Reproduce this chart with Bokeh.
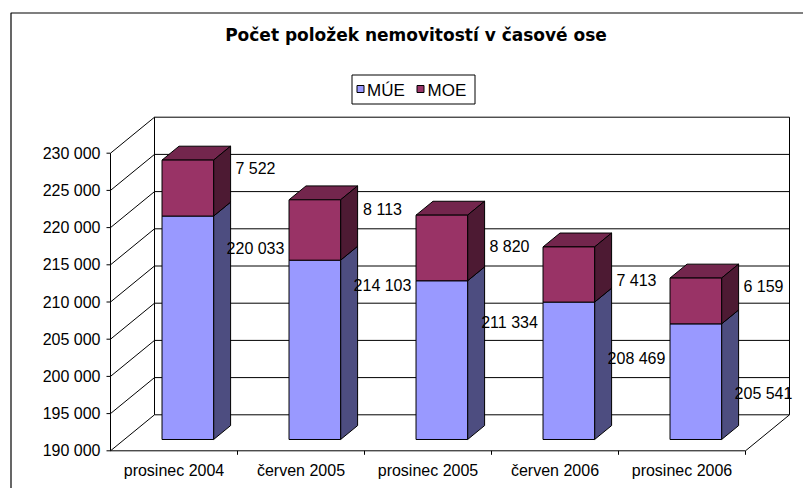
from bokeh.plotting import figure
from bokeh.models import Range1d
from bokeh.core.properties import value
from bokeh.embed import file_html
from bokeh.resources import INLINE

# ---------------- data ----------------
title = "Počet položek nemovitostí v časové ose"
categories = ["prosinec 2004", "červen 2005", "prosinec 2005", "červen 2006", "prosinec 2006"]
series_names = ["MÚE", "MOE"]
mue = [220033, 214103, 211334, 208469, 205541]
moe = [7522, 8113, 8820, 7413, 6159]
y_ticks = [190000, 195000, 200000, 205000, 210000, 215000, 220000, 225000, 230000]
y_min, y_max = 190000, 230000


def fmt(v):
    return f"{v:,}".replace(",", " ")


# ---------------- layout (page pixels -> data scales) ----------------
W, H = 803, 488
PAGE = 0
U = 127.0          # px per category
K = 0.00744        # px per value unit
X0, Y0 = 110.0, 450.3   # page px of front-left floor corner


def ux(px):
    return (px - X0) / U


def vy(py):
    return y_min + (Y0 - py) / K


DX = 44 / U        # full depth offset, x
DV = 36 / K        # full depth offset, value
BW = 51.6 / U      # bar width
F1, F2 = 0.314, 0.70   # bar front / back depth fractions

# data-label nudges (px, downward from segment top)
moe_label_dy = [8.6, 9.7, 31.3, 33.6, 8.1]
mue_label_dy = [32.6, 25.3, 42.0, 56.7, 69.9]
LABEL_DX = 18 / U

FONT = value("Liberation Sans")
LINE = "#000000"
BASE = "middle"

n = len(categories)

p = figure(width=W, height=H, output_backend="svg", toolbar_location=None,
           x_range=Range1d(ux(PAGE), ux(PAGE + W)),
           y_range=Range1d(vy(PAGE + H), vy(PAGE)),
           x_axis_type=None, y_axis_type=None, min_border=0)
p.outline_line_color = None
p.background_fill_color = "white"
p.border_fill_color = "white"
p.xgrid.visible = False
p.ygrid.visible = False

# outer chart border
p.line(x=[ux(10.5), ux(10.5), ux(900)], y=[vy(600), vy(12.5), vy(12.5)],
       line_color="#000000", line_width=1.2)

# title
p.text(x=[ux(415.5)], y=[vy(34)], text=[title], text_font=value("DejaVu Sans"),
       text_font_style="bold", text_font_size="17px", text_align="center",
       text_baseline=BASE, text_color="#000000")

# legend
p.quad(left=[ux(351.5)], right=[ux(474.5)], top=[vy(74.5)], bottom=[vy(103.5)],
       fill_color="white", line_color=LINE, line_width=1)
colors_front = ["#9999FF", "#993366"]
colors_side = ["#4D4D80", "#4D1A33"]
colors_top = ["#7373BF", "#73264D"]
sw_left = [356.5, 416.5]
txt_left = [366.5, 427]
p.quad(left=[ux(s) for s in sw_left], right=[ux(s + 7) for s in sw_left],
       top=[vy(85)] * 2, bottom=[vy(92)] * 2, fill_color=colors_front,
       line_color=LINE, line_width=1)
p.text(x=[ux(t) for t in txt_left], y=[vy(89.5)] * 2, text=series_names, text_font=FONT,
       text_font_size="17px", text_align="left", text_baseline=BASE,
       text_color="#000000")

# ---------------- 3D walls ----------------
cat_end = float(n)
# back wall gridlines + left wall diagonals
p.multi_line(xs=[[DX, cat_end + DX] for t in y_ticks],
             ys=[[t + DV, t + DV] for t in y_ticks], line_color=LINE, line_width=1)
p.multi_line(xs=[[0, DX] for t in y_ticks],
             ys=[[t, t + DV] for t in y_ticks], line_color=LINE, line_width=1)
# back wall vertical edges
p.multi_line(xs=[[DX, DX], [cat_end + DX, cat_end + DX]],
             ys=[[y_min + DV, y_max + DV]] * 2, line_color=LINE, line_width=1)
# front-left value axis
p.line(x=[0, 0], y=[y_min, y_max], line_color=LINE, line_width=1)
# floor front edge and right diagonal
p.line(x=[0, cat_end], y=[y_min, y_min], line_color=LINE, line_width=1)
p.line(x=[cat_end, cat_end + DX], y=[y_min, y_min + DV], line_color=LINE, line_width=1)

# value-axis ticks and labels
p.multi_line(xs=[[ux(106), 0] for t in y_ticks], ys=[[t, t] for t in y_ticks],
             line_color=LINE, line_width=1)
p.text(x=[ux(100)] * len(y_ticks), y=y_ticks, text=[fmt(t) for t in y_ticks],
       text_font=FONT, text_font_size="16px", text_align="right",
       text_baseline=BASE, text_color="#000000")

# category ticks and labels
p.multi_line(xs=[[i, i] for i in range(1, n + 1)],
             ys=[[y_min, y_min - 4 / K] for i in range(1, n + 1)],
             line_color=LINE, line_width=1)
p.text(x=[i + 0.5 for i in range(n)], y=[y_min] * n, y_offset=19.7, text=categories,
       text_font=FONT, text_font_size="16px", text_align="center",
       text_baseline=BASE, text_color="#000000")

# ---------------- bars ----------------
dd = (F2 - F1) * DX
dv1, dv2 = F1 * DV, F2 * DV
segments = [
    ([y_min] * n, mue),
    (mue, [a + b for a, b in zip(mue, moe)]),
]
for s, (v0s, v1s) in enumerate(segments):
    xl = [i + 0.5 - BW / 2 + F1 * DX for i in range(n)]
    xr = [x + BW for x in xl]
    side_xs = [[r, r + dd, r + dd, r] for r in xr]
    side_ys = [[a + dv1, a + dv2, b + dv2, b + dv1] for a, b in zip(v0s, v1s)]
    top_xs = [[l, r, r + dd, l + dd] for l, r in zip(xl, xr)]
    top_ys = [[b + dv1, b + dv1, b + dv2, b + dv2] for b in v1s]
    p.patches(xs=top_xs, ys=top_ys, fill_color=colors_top[s], line_color=LINE, line_width=1)
    p.patches(xs=side_xs, ys=side_ys, fill_color=colors_side[s], line_color=LINE, line_width=1)
    p.quad(left=xl, right=xr, bottom=[a + dv1 for a in v0s], top=[b + dv1 for b in v1s],
           fill_color=colors_front[s], line_color=LINE, line_width=1)

# ---------------- data labels ----------------
totals = [a + b for a, b in zip(mue, moe)]
p.text(x=[i + 1 + LABEL_DX for i in range(n)], y=[t + dv1 for t in totals],
       y_offset=moe_label_dy, text=[fmt(v) for v in moe],
       text_font=FONT, text_font_size="16px", text_align="center",
       text_baseline=BASE, text_color="#000000")
p.text(x=[i + 1 + LABEL_DX for i in range(n)], y=[m + dv1 for m in mue],
       y_offset=mue_label_dy, text=[fmt(v) for v in mue],
       text_font=FONT, text_font_size="16px", text_align="center",
       text_baseline=BASE, text_color="#000000")

open("out.html", "w").write(file_html(p, INLINE))
